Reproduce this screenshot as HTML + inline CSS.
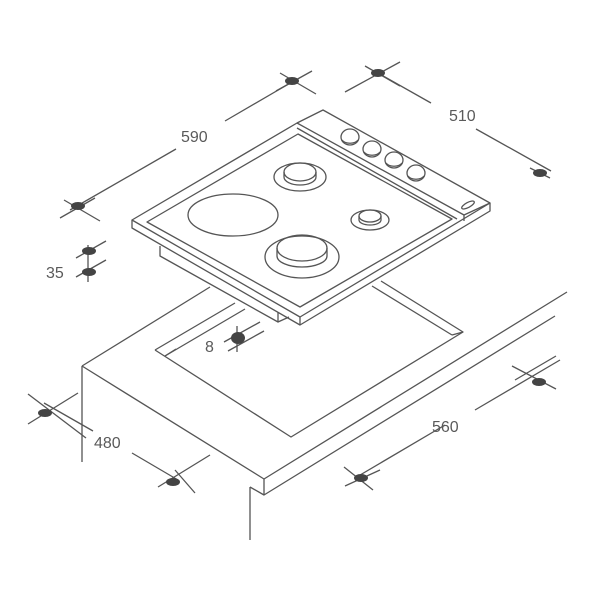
<!DOCTYPE html>
<html><head><meta charset="utf-8"><style>
html,body{margin:0;padding:0;background:#fff;width:600px;height:600px;overflow:hidden}
svg text{font-family:"Liberation Sans",sans-serif;font-size:16px;fill:#5a5a5a}
</style></head><body>
<svg width="600" height="600" viewBox="0 0 600 600" xmlns="http://www.w3.org/2000/svg">
<g fill="none" stroke="#555" stroke-width="1.3" stroke-linejoin="round">
<!-- countertop -->
<path d="M82,366 L210,287"/>
<path d="M82,366 L82,462"/>
<path d="M82,366 L264,479 L567,292"/>
<path d="M264,479 L264,495 L555,316"/>
<path d="M250,487 L250,540"/>
<path d="M250,487 L264,495"/>
<!-- cutout -->
<path d="M155,350 L291,437 L463,332 L381,281"/>
<path d="M155,350 L235,303"/>
<path d="M165,356 L245,309"/>
<path d="M165,356 L176,349"/>
<path d="M452,335 L372,286"/>
<path d="M463,332 L452,335"/>
<!-- hob underside box -->
<path d="M160,246 L160,256 L278,322 L278,312"/>
<path d="M278,322 L289,317"/>
<!-- hob top outer -->
<path d="M132,220 L297,123 L323,110 L490,203 L300,317 Z" fill="#fff"/>
<path d="M132,220 L132,228 L300,325 L490,211 L490,203"/>
<path d="M300,317 L300,325"/>
<!-- inner frame -->
<path d="M147,222 L298,134 L452,219 L300,307 Z"/>
<!-- knob strip -->
<path d="M297,123 L464,215 L490,203"/>
<path d="M297,128 L457,219"/>
<path d="M464,215 L464,221"/>
<ellipse cx="468" cy="205" rx="7" ry="2.5" transform="rotate(-28 468 205)"/>
<!-- knobs -->
<g>
<ellipse cx="350" cy="137" rx="9" ry="8"/><path d="M342,140 A9,6 0 0 0 358,140"/>
<ellipse cx="372" cy="149" rx="9" ry="8"/><path d="M364,152 A9,6 0 0 0 380,152"/>
<ellipse cx="394" cy="160" rx="9" ry="8"/><path d="M386,163 A9,6 0 0 0 402,163"/>
<ellipse cx="416" cy="173" rx="9" ry="8"/><path d="M408,176 A9,6 0 0 0 424,176"/>
</g>
<!-- burners -->
<ellipse cx="233" cy="215" rx="45" ry="21"/>
<ellipse cx="300" cy="177" rx="26" ry="14"/>
<ellipse cx="300" cy="172" rx="16" ry="9"/>
<path d="M284,172 L284,177 A16,8 0 0 0 316,177 L316,172"/>
<ellipse cx="370" cy="220" rx="19" ry="10"/>
<ellipse cx="370" cy="216" rx="11" ry="6"/>
<path d="M359,216 L359,220 A11,5 0 0 0 381,220 L381,216"/>
<ellipse cx="302" cy="257" rx="37" ry="21"/>
<ellipse cx="302" cy="248" rx="25" ry="13"/>
<path d="M277,248 L277,256 A25,11 0 0 0 327,256 L327,248"/>
<!-- dimension lines -->
<path d="M70,210 L176,149"/><path d="M225,121 L292,82"/>
<path d="M378,73 L431,103"/><path d="M476,129 L551,171"/>
<path d="M44,403 L93,431"/><path d="M132,453 L178,480"/>
<path d="M355,478 L445,425"/><path d="M475,410 L560,360"/>
<!-- ticks -->
<path d="M64,200 L100,221"/><path d="M60,218 L95,198"/>
<path d="M280,73 L316,94"/><path d="M276,91 L312,71"/>
<path d="M345,92 L400,62"/><path d="M365,66 L400,86"/>
<path d="M530,168 L550,178"/>
<path d="M76,258 L106,241"/><path d="M76,277 L106,260"/><path d="M88,245 L88,282"/>
<path d="M224,342 L260,322"/><path d="M228,351 L264,331"/><path d="M237,326 L237,352"/>
<path d="M28,424 L78,393"/><path d="M28,394 L86,438"/>
<path d="M158,487 L210,455"/><path d="M175,470 L195,493"/>
<path d="M344,467 L373,490"/><path d="M345,486 L380,470"/>
<path d="M512,366 L556,389"/><path d="M515,380 L556,356"/>
</g>
<g fill="#444">
<ellipse cx="78" cy="206" rx="7" ry="4"/>
<ellipse cx="292" cy="81" rx="7" ry="4"/>
<ellipse cx="378" cy="73" rx="7" ry="4"/>
<ellipse cx="540" cy="173" rx="7" ry="4"/>
<ellipse cx="89" cy="251" rx="7" ry="4"/>
<ellipse cx="89" cy="272" rx="7" ry="4"/>
<ellipse cx="238" cy="338" rx="7" ry="6"/>
<ellipse cx="45" cy="413" rx="7" ry="4"/>
<ellipse cx="173" cy="482" rx="7" ry="4"/>
<ellipse cx="361" cy="478" rx="7" ry="4"/>
<ellipse cx="539" cy="382" rx="7" ry="4"/>
</g>
<text x="181" y="142">590</text>
<text x="449" y="121">510</text>
<text x="46" y="278">35</text>
<text x="205" y="352">8</text>
<text x="94" y="448">480</text>
<text x="432" y="432">560</text>
</svg>
</body></html>
